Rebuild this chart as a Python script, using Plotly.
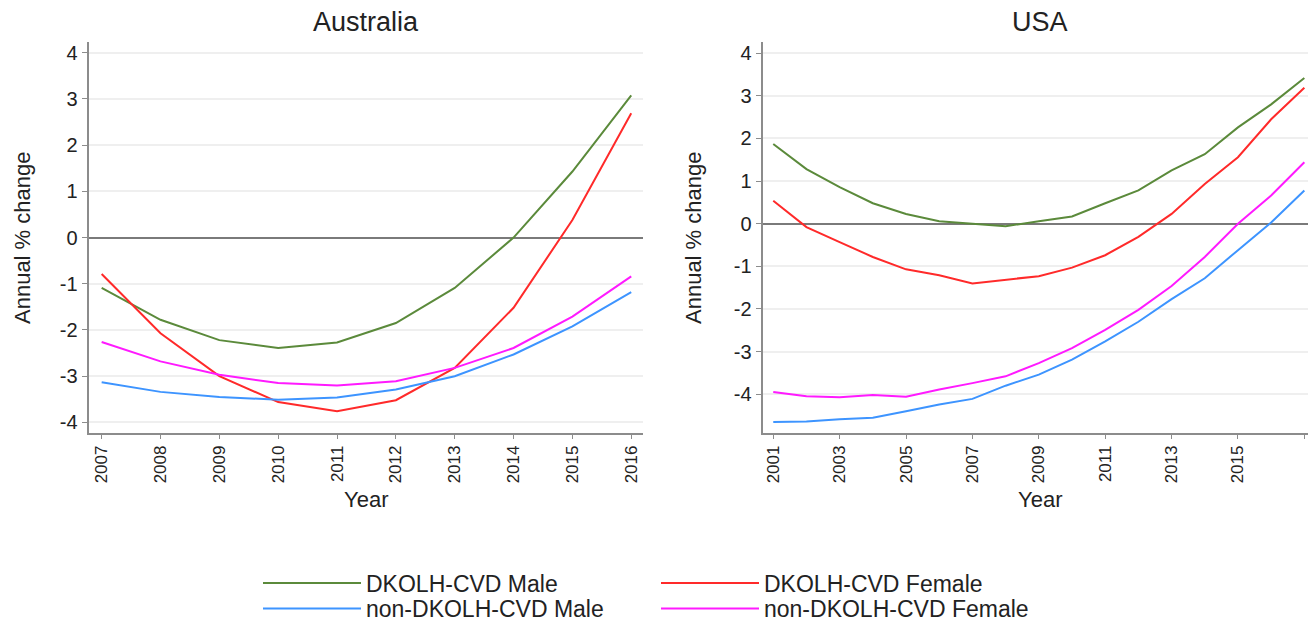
import plotly.graph_objects as go

# ---------------- data ----------------
aus_years = list(range(2007, 2017))
aus_dk_male = [-1.09, -1.78, -2.22, -2.39, -2.27, -1.85, -1.09, 0.0, 1.43, 3.08]
aus_dk_female = [-0.79, -2.07, -3.0, -3.56, -3.76, -3.52, -2.82, -1.52, 0.38, 2.69]
aus_non_male = [-3.13, -3.34, -3.45, -3.51, -3.46, -3.29, -3.0, -2.53, -1.92, -1.18]
aus_non_female = [-2.26, -2.68, -2.97, -3.15, -3.2, -3.11, -2.82, -2.39, -1.71, -0.84]

usa_years = list(range(2001, 2018))
usa_dk_male = [1.87, 1.28, 0.86, 0.48, 0.23, 0.06, 0.0, -0.06, 0.06, 0.17, 0.48, 0.78, 1.25, 1.63, 2.26, 2.8, 3.42]
usa_dk_female = [0.54, -0.08, -0.43, -0.78, -1.07, -1.21, -1.40, -1.31, -1.23, -1.03, -0.74, -0.31, 0.23, 0.93, 1.56, 2.45, 3.19]
usa_non_male = [-4.65, -4.64, -4.59, -4.55, -4.40, -4.24, -4.11, -3.80, -3.54, -3.19, -2.76, -2.30, -1.77, -1.28, -0.62, 0.03, 0.78]
usa_non_female = [-3.95, -4.05, -4.07, -4.02, -4.06, -3.89, -3.74, -3.58, -3.27, -2.92, -2.49, -2.02, -1.46, -0.78, 0.0, 0.66, 1.44]

series_names = ["DKOLH-CVD Male", "DKOLH-CVD Female", "non-DKOLH-CVD Male", "non-DKOLH-CVD Female"]
series_colors = ["#5b8a3b", "#ff2a2a", "#3d94ff", "#ff1aff"]

y_ticks = [-4, -3, -2, -1, 0, 1, 2, 3, 4]
y_ticktext = ["-4", "-3", "-2", "-1", "0", "1", "2", "3", "4"]
aus_xticks = aus_years
usa_xticks = list(range(2001, 2018, 2))

panel_titles = ["Australia", "USA"]
x_title = "Year"
y_title = "Annual % change"

FONT = "Liberation Sans, Arial, sans-serif"
W, H = 1308, 630

fig = go.Figure()

aus_data = [aus_dk_male, aus_dk_female, aus_non_male, aus_non_female]
usa_data = [usa_dk_male, usa_dk_female, usa_non_male, usa_non_female]
legend_ids = ["legend", "legend", "legend2", "legend2"]

for i, (name, col) in enumerate(zip(series_names, series_colors)):
    fig.add_trace(go.Scatter(x=aus_years, y=aus_data[i], mode="lines", name=name,
                             line=dict(color=col, width=2), xaxis="x", yaxis="y",
                             legend=legend_ids[i], showlegend=True))
for i, (name, col) in enumerate(zip(series_names, series_colors)):
    fig.add_trace(go.Scatter(x=usa_years, y=usa_data[i], mode="lines", name=name,
                             line=dict(color=col, width=2), xaxis="x2", yaxis="y2",
                             legend=legend_ids[i], showlegend=False))

top = 1 - 41.7 / H
bottom = 1 - 433 / H

common_x = dict(showgrid=False, zeroline=False, showline=True, linecolor="#8c8c8c", linewidth=1.5,
                ticks="outside", ticklen=4, tickcolor="#8c8c8c", tickwidth=1.2,
                tickangle=-90, tickfont=dict(family=FONT, size=17, color="#222"),
                automargin=False, fixedrange=True)
common_y = dict(showgrid=True, gridcolor="#efefef", gridwidth=1.5,
                zeroline=True, zerolinecolor="#7a7a7a", zerolinewidth=2,
                showline=True, linecolor="#8c8c8c", linewidth=1.5,
                ticks="outside", ticklen=6, tickcolor="#8c8c8c", tickwidth=1.2,
                tickvals=y_ticks, ticktext=y_ticktext, automargin=False,
                tickfont=dict(family=FONT, size=20, color="#222"),
                fixedrange=True)

legend_common = dict(orientation="h", x=258 / W, xanchor="left",
                     entrywidth=285, entrywidthmode="pixels", itemwidth=98,
                     font=dict(family=FONT, size=23, color="#222"), bgcolor="rgba(0,0,0,0)",
                     traceorder="normal")

title_font = dict(family=FONT, size=27, color="#222")
axis_font = dict(family=FONT, size=22, color="#222")

def ann(text, xpx, ypx, font, angle=0):
    return dict(text=text, x=xpx / W, y=1 - ypx / H, xref="paper", yref="paper",
                showarrow=False, font=font, xanchor="center", yanchor="middle", textangle=angle)

fig.update_layout(
    width=W, height=H,
    margin=dict(l=0, r=0, t=0, b=0),
    paper_bgcolor="white", plot_bgcolor="white",
    font=dict(family=FONT, color="#222"),
    xaxis=dict(domain=[89.3 / W, 643 / W], range=[2006.79, 2016.2], tickvals=aus_xticks,
               anchor="y", **common_x),
    yaxis=dict(domain=[bottom, top], range=[-4.23, 4.24], anchor="x", **common_y),
    xaxis2=dict(domain=[763.3 / W, 1.0], range=[2000.70, 2017.11], tickvals=usa_xticks,
                anchor="y2", **common_x),
    yaxis2=dict(domain=[bottom, top], range=[-4.91, 4.27], anchor="x2", **common_y),
    legend=dict(y=1 - 583 / H, yanchor="middle", **legend_common),
    legend2=dict(y=0, yanchor="bottom", **legend_common),
    annotations=[
        ann(panel_titles[0], (89.3 + 643) / 2, 22, title_font),
        ann(panel_titles[1], 1040, 22, title_font),
        ann(y_title, 22, 238, axis_font, -90),
        ann(y_title, 693, 238, axis_font, -90),
        ann(x_title, 366, 499, axis_font),
        ann(x_title, 1040, 499, axis_font),
    ],
)

fig.write_html("out.html")
